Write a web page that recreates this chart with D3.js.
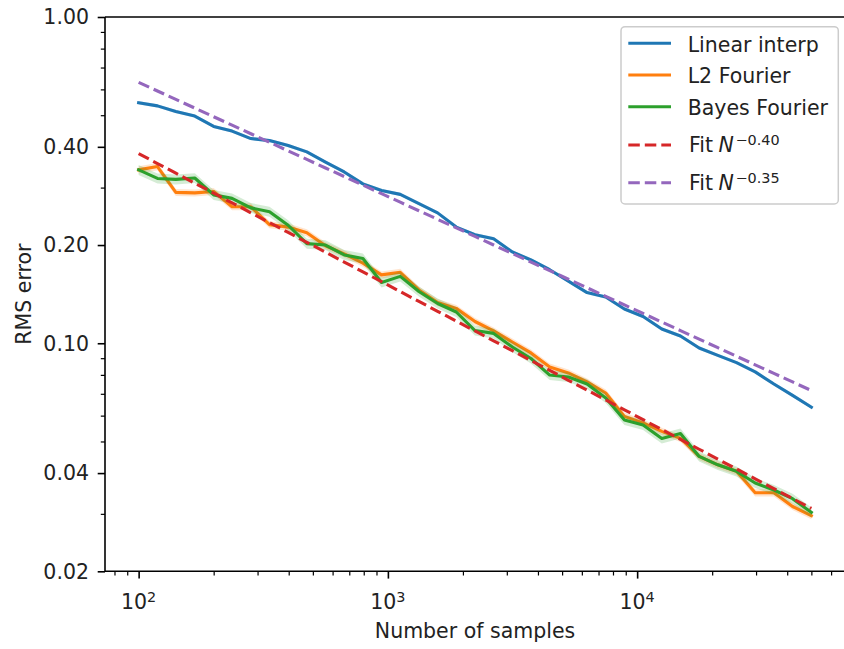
<!DOCTYPE html>
<html><head><meta charset="utf-8">
<script src="https://cdn.jsdelivr.net/npm/d3@7"></script>
<style>
html,body{margin:0;padding:0;background:#fff;}
svg{display:block;font-family:"DejaVu Sans",sans-serif;}
</style></head><body>
<svg id="chart" width="844" height="649"></svg>
<script>
// ---------- data ----------
const samples = [100,119,141,168,200,237,282,335,398,473,562,668,794,943,1121,1332,1583,1881,2235,2656,3157,3751,4458,5298,6296,7482,8891,10566,12557,14922,17734,21074,25045,29763,35370,42034,50000];
const linearInterp = [0.546,0.534,0.513,0.497,0.462,0.447,0.424,0.418,0.404,0.386,0.359,0.335,0.308,0.294,0.286,0.268,0.251,0.227,0.215,0.209,0.1905,0.180,0.168,0.155,0.143,0.1386,0.1273,0.1208,0.1106,0.1053,0.0967,0.0918,0.0872,0.0817,0.0750,0.0692,0.0637];
const l2Fourier = [0.340,0.348,0.290,0.289,0.292,0.262,0.262,0.231,0.227,0.218,0.199,0.188,0.176,0.162,0.165,0.1457,0.1334,0.1279,0.1166,0.1091,0.1009,0.0934,0.0846,0.0811,0.0761,0.0704,0.0597,0.0570,0.0537,0.0511,0.0450,0.0424,0.0405,0.0348,0.0348,0.0316,0.0296];
const bayesFourier = [0.340,0.320,0.318,0.321,0.285,0.278,0.260,0.253,0.230,0.202,0.200,0.1865,0.1819,0.1536,0.1603,0.1441,0.1324,0.1247,0.1094,0.1072,0.0974,0.0898,0.0799,0.0788,0.0750,0.0680,0.0582,0.0562,0.0511,0.0529,0.0450,0.0424,0.0405,0.0373,0.0355,0.0334,0.0303];
const seriesNames = ["Linear interp","L2 Fourier","Bayes Fourier"];
const seriesColors = ["#1f77b4","#ff7f0e","#2ca02c"];
const bandSpread = [0.012,0.025,0.035];
const fitScale = [2.44,3.16];
const fitExponent = [0.403,0.350];
const fitLabels = ["\u22120.40","\u22120.35"];
const fitColors = ["#d62728","#9467bd"];
const xMajorTicks = [100,1000,10000];
const xTickExponents = ["2","3","4"];
const yTicks = [1.0,0.4,0.2,0.1,0.04,0.02];
const yTickLabels = ["1.00","0.40","0.20","0.10","0.04","0.02"];
const xTitle = "Number of samples";
const yTitle = "RMS error";

// ---------- layout ----------
const plot = {left:105, right:845, top:17, bottom:571.3};
const FS = 20.5, SUP = 14.4, LW = 3.1;
const svg = d3.select("#chart");

const logMin = Math.log10(d3.min(samples)), logMax = Math.log10(d3.max(samples));
const pad = 0.05*(logMax-logMin);
const x = d3.scaleLog().domain([10**(logMin-pad), 10**(logMax+pad)]).range([plot.left, plot.right]);
const y = d3.scaleLog().domain([yTicks[yTicks.length-1], yTicks[0]]).range([plot.bottom, plot.top]);

const seriesData = [linearInterp, l2Fourier, bayesFourier];

// ---------- series ----------
const gPlot = svg.append("g");
seriesData.forEach((vals, k) => {
  const pts = samples.map((n,i)=>({n, v: vals[i]}));
  const s = bandSpread[k];
  gPlot.append("path").datum(pts)
    .attr("d", d3.area().x(d=>x(d.n)).y0(d=>y(d.v*(1-s))).y1(d=>y(d.v*(1+s))))
    .attr("fill", seriesColors[k]).attr("fill-opacity", 0.2).attr("stroke","none");
  gPlot.append("path").datum(pts)
    .attr("d", d3.line().x(d=>x(d.n)).y(d=>y(d.v)))
    .attr("fill","none").attr("stroke", seriesColors[k]).attr("stroke-width", LW)
    .attr("stroke-linejoin","round").attr("stroke-linecap","square");
});
// fits
fitScale.forEach((c,k) => {
  const pts = samples.map(n=>({n, v: c*Math.pow(n, -fitExponent[k])}));
  gPlot.append("path").datum(pts)
    .attr("d", d3.line().x(d=>x(d.n)).y(d=>y(d.v)))
    .attr("fill","none").attr("stroke", fitColors[k]).attr("stroke-width", LW)
    .attr("stroke-dasharray","11.5,5");
});

// ---------- axes ----------
const xMinor = x.ticks().filter(v => !xMajorTicks.includes(v));
const yMinor = y.ticks().filter(v => !yTicks.some(t => Math.abs(t-v) < 1e-9));

const gx = svg.append("g").attr("transform", `translate(0,${plot.bottom})`);
gx.call(d3.axisBottom(x).tickValues(xMajorTicks).tickSize(7.3).tickFormat(""))
  .call(g=>g.select(".domain").remove());
gx.selectAll(".tick line").attr("stroke","#000").attr("stroke-width",1.6);
const gxm = svg.append("g").attr("transform", `translate(0,${plot.bottom})`);
gxm.call(d3.axisBottom(x).tickValues(xMinor).tickSize(4.2).tickFormat(""))
  .call(g=>g.select(".domain").remove());
gxm.selectAll(".tick line").attr("stroke","#000").attr("stroke-width",1.2);

xMajorTicks.forEach((v,i) => {
  const t = svg.append("text").attr("x", x(v)).attr("y", 608.5)
    .attr("text-anchor","middle").attr("font-size", FS).attr("fill","#222");
  t.append("tspan").text("10");
  t.append("tspan").attr("dy", -7).attr("font-size", SUP).text(xTickExponents[i]);
});

const gy = svg.append("g").attr("transform", `translate(${plot.left},0)`);
gy.call(d3.axisLeft(y).tickValues(yTicks).tickSize(7.3).tickFormat(""))
  .call(g=>g.select(".domain").remove());
gy.selectAll(".tick line").attr("stroke","#000").attr("stroke-width",1.6);
const gym = svg.append("g").attr("transform", `translate(${plot.left},0)`);
gym.call(d3.axisLeft(y).tickValues(yMinor).tickSize(4.2).tickFormat(""))
  .call(g=>g.select(".domain").remove());
gym.selectAll(".tick line").attr("stroke","#000").attr("stroke-width",1.2);

yTicks.forEach((v,i) => {
  svg.append("text").attr("x", 89).attr("y", y(v) + 7.4)
    .attr("text-anchor","end").attr("font-size", FS).attr("fill","#222")
    .text(yTickLabels[i]);
});

// spines
const spine = svg.append("g").attr("stroke","#000").attr("stroke-width",1.6);
spine.append("line").attr("x1",plot.left).attr("x2",plot.left).attr("y1",plot.top).attr("y2",plot.bottom);
spine.append("line").attr("x1",plot.left).attr("x2",plot.right).attr("y1",plot.bottom).attr("y2",plot.bottom);
spine.append("line").attr("x1",plot.left).attr("x2",plot.right).attr("y1",plot.top).attr("y2",plot.top);
spine.append("line").attr("x1",plot.right).attr("x2",plot.right).attr("y1",plot.top).attr("y2",plot.bottom);

// titles
svg.append("text").attr("x", (plot.left+plot.right)/2).attr("y", 638)
  .attr("text-anchor","middle").attr("font-size", FS).attr("fill","#222").text(xTitle);
svg.append("text").attr("transform", `translate(30.5,${(plot.top+plot.bottom)/2}) rotate(-90)`)
  .attr("text-anchor","middle").attr("font-size", FS).attr("fill","#222").text(yTitle);

// ---------- legend ----------
const leg = svg.append("g");
leg.append("rect").attr("x",621).attr("y",26.7).attr("width",217.3).attr("height",177.3)
  .attr("rx",4).attr("fill","#fff").attr("fill-opacity",0.8)
  .attr("stroke","#cccccc").attr("stroke-width",1.5);
const rowY = [43.3, 75, 106.7, 145, 182.7];
seriesNames.forEach((name,k) => {
  leg.append("line").attr("x1",628.3).attr("x2",671).attr("y1",rowY[k]).attr("y2",rowY[k])
    .attr("stroke",seriesColors[k]).attr("stroke-width",LW);
  leg.append("text").attr("x",687.7).attr("y",rowY[k]+8.3)
    .attr("font-size",FS).attr("fill","#222").text(name);
});
fitLabels.forEach((lab,k) => {
  const ry = rowY[3+k];
  leg.append("line").attr("x1",628.3).attr("x2",671).attr("y1",ry).attr("y2",ry)
    .attr("stroke",fitColors[k]).attr("stroke-width",LW).attr("stroke-dasharray","11.5,5");
  leg.append("text").attr("x",689).attr("y",ry+7).attr("font-size",FS).attr("fill","#222").text("Fit");
  leg.append("text").attr("x",718.5).attr("y",ry+7).attr("font-size",FS).attr("font-style","italic").attr("fill","#222").text("N");
  leg.append("text").attr("x",735.5).attr("y",ry).attr("font-size",SUP).attr("fill","#222").text(lab);
});
</script>
</body></html>
